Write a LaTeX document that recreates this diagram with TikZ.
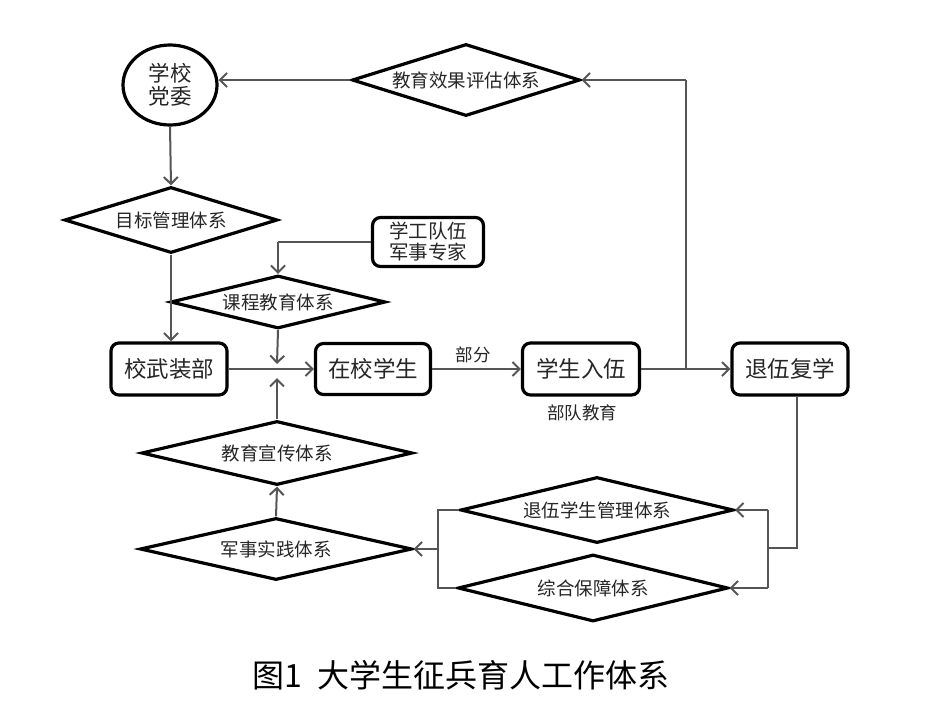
\documentclass[tikz,border=0pt]{standalone}
\usepackage{fontspec}
\newfontfamily\cjk{Noto Sans CJK SC}
\usetikzlibrary{shapes.geometric,arrows.meta,calc}
\definecolor{lineg}{HTML}{555555}
\definecolor{textg}{HTML}{262626}
\begin{document}
\begin{tikzpicture}[x=1pt,y=-1pt,
  conn/.style={draw=lineg,line width=2pt},
  arr/.style={conn,-{Straight Barb[length=7pt,width=14pt]}},
  dia/.style={diamond,draw=black,line width=3.2pt,inner sep=0pt,text=textg,font=\cjk\fontsize{18.5}{20}\selectfont},
  box/.style={rectangle,rounded corners=8pt,draw=black,line width=3.2pt,inner sep=0pt,text=textg,font=\cjk\fontsize{22.5}{24}\selectfont},
  lbl/.style={text=textg,font=\cjk\fontsize{17.5}{20}\selectfont}
]
\useasboundingbox[fill=white] (0,0) rectangle (932,721);

% nodes
\node[ellipse,draw=black,line width=3.2pt,minimum width=94pt,minimum height=80pt,inner sep=0pt,align=center,text=textg,font=\cjk\fontsize{21.5}{23}\selectfont] (party) at (170,85) {学校\\党委};
\node[dia,aspect=3.17,minimum width=228pt,minimum height=72pt] (eval) at (466,80) {教育效果评估体系};
\node[dia,aspect=3.23,minimum width=213pt,minimum height=66pt] (goal) at (171,220) {目标管理体系};
\node[box,minimum width=111pt,minimum height=49pt,align=center,font=\cjk\fontsize{19.5}{21}\selectfont] (staff) at (428,242) {学工队伍\\军事专家};
\node[dia,aspect=4.06,minimum width=215pt,minimum height=53pt] (course) at (278,302) {课程教育体系};
\node[box,minimum width=116pt,minimum height=52pt] (armed) at (169,369) {校武装部};
\node[box,minimum width=115pt,minimum height=51pt] (stud) at (373,369) {在校学生};
\node[box,minimum width=117pt,minimum height=52pt] (enlist) at (581,369) {学生入伍};
\node[box,minimum width=116pt,minimum height=52pt] (retire) at (790,369) {退伍复学};
\node[dia,aspect=4.23,minimum width=271pt,minimum height=64pt] (publicity) at (277,453) {教育宣传体系};
\node[dia,aspect=4.39,minimum width=272pt,minimum height=62pt] (practice) at (276,549) {军事实践体系};
\node[dia,aspect=4.14,minimum width=273pt,minimum height=66pt] (retmgmt) at (597,510) {退伍学生管理体系};
\node[dia,aspect=4.03,minimum width=270pt,minimum height=67pt] (support) at (593,588) {综合保障体系};
\node[lbl] (part) at (473,355) {部分};
\node[lbl] (troop) at (582,413) {部队教育};
\node[text=black,font=\cjk\fontsize{32}{34}\selectfont] (caption) at (461,675) {图1\hspace{16pt}大学生征兵育人工作体系};

% helper coordinates
\coordinate (J) at (277,369);
\coordinate (B) at (686,369);
\coordinate (Btop) at (686,80);
\coordinate (Rdown) at ($(retire.south)+(7,0)$);
\coordinate (Rbend) at (797,548);
\coordinate (Rjoin) at (768,548);
\coordinate (Rtop) at (768,510);
\coordinate (Rbot) at (768,588);
\coordinate (Ltop) at (438,510);
\coordinate (Lbot) at (438,588);
\coordinate (Lmid) at (438,549);
\coordinate (Sbend) at (278,242);

% connectors
\draw[arr] (eval.west) -- (eval.west -| party.east);
\draw[arr] (party.south) -- (goal.north);
\draw[arr] (goal.south) -- (goal.south |- armed.north);
\draw[conn] (staff.west) -- (Sbend);
\draw[arr] (Sbend) -- (course.north);
\draw[arr] (course.south) -- ($(J)+(0,-5)$);
\draw[arr] (publicity.north) -- ($(J)+(0,9)$);
\draw[arr] (practice.north) -- (publicity.south);
\draw[arr] (armed.east) -- (stud.west);
\draw[arr] (stud.east) -- (enlist.west);
\draw[arr] (enlist.east) -- (retire.west);
\draw[conn] (B) -- (Btop);
\draw[arr] (Btop) -- (eval.east);
\draw[conn] (Rdown) -- (Rbend) -- (Rjoin);
\draw[conn] (Rtop) -- (Rbot);
\draw[arr] (Rtop) -- (retmgmt.east);
\draw[arr] (Rbot) -- (support.east);
\draw[conn] (retmgmt.west) -- (Ltop) -- (Lbot) -- (support.west);
\draw[arr] (Lmid) -- (practice.east);
\end{tikzpicture}
\end{document}
